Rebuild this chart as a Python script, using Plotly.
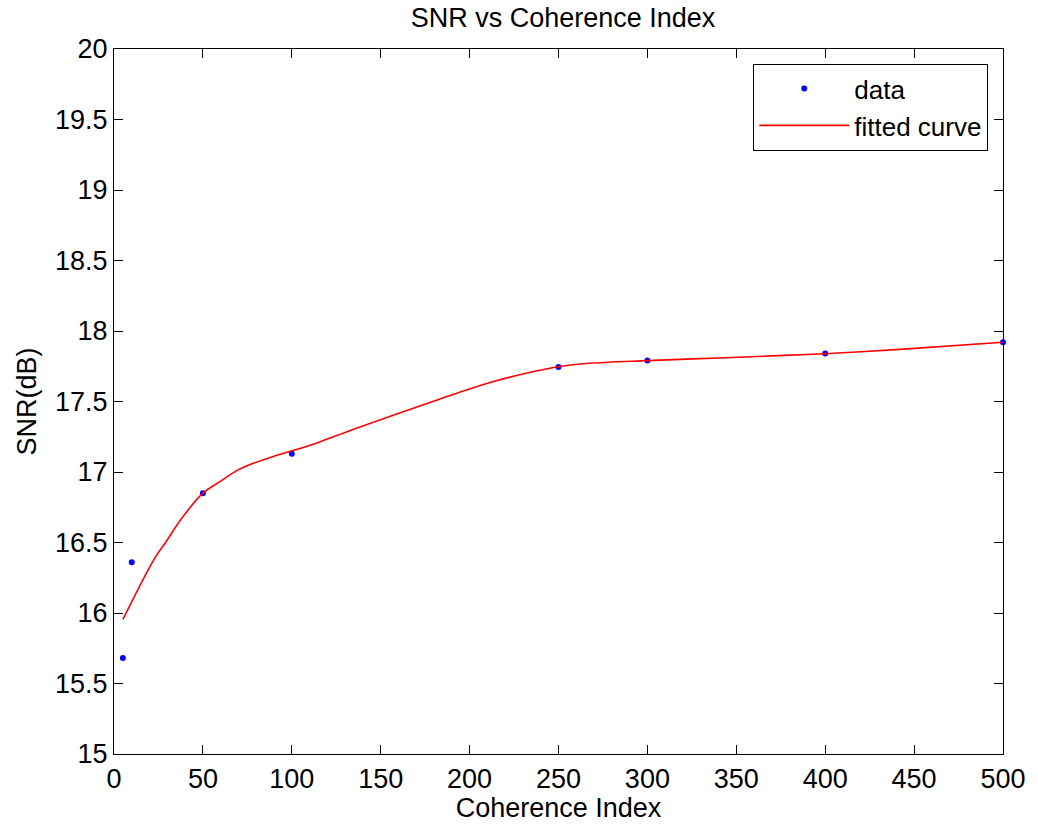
import plotly.graph_objects as go

# Measured SNR at each coherence index
coherence_index = [5, 10, 50, 100, 250, 300, 400, 500]
snr_db = [15.68, 16.36, 16.85, 17.13, 17.745, 17.79, 17.84, 17.92]

# Smoothed fit evaluated along the coherence-index range
fit_x = [5, 12, 19, 24, 29, 38, 50, 60, 69, 78, 87, 100, 115, 134, 183, 211, 233, 250,
         267, 300, 340, 400, 442, 500]
fit_y = [15.955, 16.13, 16.30, 16.41, 16.50, 16.67, 16.85, 16.935, 17.01, 17.06, 17.10,
         17.15, 17.21, 17.30, 17.516, 17.633, 17.704, 17.747, 17.771, 17.79, 17.809,
         17.839, 17.87, 17.92]

x_ticks = list(range(0, 501, 50))
y_ticks = [15 + 0.5 * i for i in range(11)]
y_tick_text = [f"{v:g}" for v in y_ticks]

FONT = "Liberation Sans, Arial, Helvetica, sans-serif"
FS = 27

fig = go.Figure()
fig.add_trace(go.Scatter(
    x=coherence_index, y=snr_db, mode="markers", name="data",
    marker=dict(color="#0000ff", size=6), cliponaxis=False,
))
fig.add_trace(go.Scatter(
    x=fit_x, y=fit_y, mode="lines", name="fitted curve",
    line=dict(color="#ff0000", width=1.6, shape="spline", smoothing=0.9),
))

axis_common = dict(
    showline=True, linecolor="black", linewidth=1.2, mirror="allticks",
    ticks="inside", ticklen=9, tickwidth=1, tickcolor="black",
    showgrid=False, zeroline=False,
    tickfont=dict(family=FONT, size=FS, color="black"),
)

fig.update_layout(
    width=1038, height=828,
    margin=dict(l=114, r=25, t=49, b=74),
    paper_bgcolor="white", plot_bgcolor="white",
    font=dict(family=FONT, size=FS, color="black"),
    title=dict(text="SNR vs Coherence Index", x=(114 + 1012) / 2 / 1038, xanchor="center",
               y=1 - 18 / 828, yanchor="middle",
               font=dict(family=FONT, size=FS, color="black")),
    xaxis=dict(range=[0, 500], tickvals=x_ticks, ticktext=[str(v) for v in x_ticks],
               title=dict(text="Coherence Index", standoff=4,
                          font=dict(family=FONT, size=FS)),
               **axis_common),
    yaxis=dict(range=[15, 20], tickvals=y_ticks, ticktext=y_tick_text,
               title=dict(text="SNR(dB)", standoff=10,
                          font=dict(family=FONT, size=FS)),
               **axis_common),
    legend=dict(x=0.9832, xanchor="right", y=0.9787, yanchor="top",
                bgcolor="white", bordercolor="black", borderwidth=1.2,
                font=dict(family=FONT, size=26, color="black"),
                itemwidth=90, tracegroupgap=0),
    showlegend=True,
)

fig.write_html("out.html")
